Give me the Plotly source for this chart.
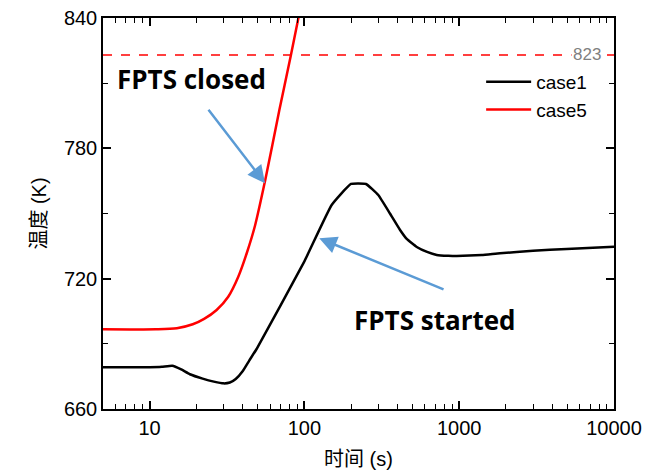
import numpy as np
import plotly.graph_objects as go

# Temperature histories (time in s, temperature in K)
case1_t = [5, 10, 12, 14, 16, 18.2, 22, 26, 30, 33, 36, 40, 44, 49, 100, 150, 200, 250, 300, 357, 415, 458, 532, 620, 716, 850, 964, 1400, 1836, 3000, 4950, 10000]
case1_T = [679.2, 679.2, 679.4, 679.9, 678.2, 676.0, 674.0, 672.6, 671.8, 672.2, 673.8, 677.5, 682.3, 687.5, 728.0, 753.9, 763.6, 763.6, 758.5, 750.0, 742.4, 738.3, 734.6, 732.3, 730.9, 730.5, 730.4, 730.9, 731.7, 732.8, 733.7, 734.7]

case5_t = [5, 11, 15, 19, 22.5, 27.1, 32.2, 37.4, 42.4, 48.0, 55.7, 68.9, 81.6, 91.4, 100]
case5_T = [696.7, 696.7, 697.2, 699.0, 701.5, 705.6, 711.7, 720.9, 731.7, 744.5, 765.0, 797.6, 822.5, 839.9, 853.4]

limit_T = 823
x_range = [5, 10000]
y_range = [660, 840]

FONT = "Arial, Liberation Sans, Noto Sans CJK SC, sans-serif"
BOLD_FONT = "Open Sans, Lato, sans-serif"
ARROW_BLUE = "#5B9BD5"

fig = go.Figure()
fig.add_trace(go.Scatter(x=case1_t, y=case1_T, mode="lines", name="case1",
                         line=dict(color="black", width=2.5, shape="spline", smoothing=0.35)))
fig.add_trace(go.Scatter(x=case5_t, y=case5_T, mode="lines", name="case5",
                         line=dict(color="red", width=2.5, shape="spline", smoothing=0.8)))

# design limit
fig.add_shape(type="line", xref="paper", yref="y", x0=0, x1=1, y0=limit_T, y1=limit_T,
              line=dict(color="red", width=1.5, dash="dash"))
fig.add_annotation(xref="paper", yref="y", x=0.947, y=limit_T, text=str(limit_T),
                   xanchor="center", yanchor="middle",
                   showarrow=False, font=dict(family=FONT, size=17, color="#7f7f7f"),
                   bgcolor="white", borderpad=1)

# event labels
fig.add_annotation(xref="paper", yref="paper", x=0.174, y=0.844, text="<b>FPTS closed</b>",
                   xanchor="center", yanchor="middle",
                   showarrow=False, font=dict(family=BOLD_FONT, size=26, color="black"))
fig.add_annotation(xref="paper", yref="paper", x=0.650, y=0.228, text="<b>FPTS started</b>",
                   xanchor="center", yanchor="middle",
                   showarrow=False, font=dict(family=BOLD_FONT, size=26, color="black"))

# pointer arrows (head, tail) in data coordinates
arrows = [((55.7, 763.9), (23.6, 798.4)), ((124.7, 738.6), (810, 714.8))]
for (hx, hy), (tx, ty) in arrows:
    fig.add_annotation(xref="x", yref="y", axref="x", ayref="y",
                       x=np.log10(hx), y=hy, ax=np.log10(tx), ay=ty, text="",
                       showarrow=True, arrowhead=2, arrowsize=1.4, arrowwidth=2.5,
                       arrowcolor=ARROW_BLUE)

axis_common = dict(showline=True, linecolor="black", linewidth=1.5, mirror="ticks",
                   ticks="inside", ticklen=8, tickwidth=1.5, tickcolor="black",
                   showgrid=False, zeroline=False,
                   tickfont=dict(family=FONT, size=20, color="black"))

fig.update_xaxes(type="log", range=[np.log10(x_range[0]), np.log10(x_range[1])],
                 tick0=0, dtick=1, tickformat="d",
                 minor=dict(ticks="inside", ticklen=5, tickwidth=1.2, tickcolor="black",
                            dtick="D1", showgrid=False),
                 title=dict(text="时间 (s)", font=dict(family=FONT, size=20, color="black"), standoff=14),
                 **axis_common)
fig.update_yaxes(range=y_range, dtick=60,
                 minor=dict(ticks="inside", ticklen=5, tickwidth=1.2, tickcolor="black",
                            dtick=30, showgrid=False),
                 title=dict(text="温度 (K)", font=dict(family=FONT, size=20, color="black"), standoff=12),
                 **axis_common)

fig.update_layout(
    width=666, height=471,
    margin=dict(l=103, r=52, t=18, b=62, autoexpand=False),
    paper_bgcolor="white", plot_bgcolor="white",
    font=dict(family=FONT, color="black"),
    showlegend=True,
    legend=dict(x=0.74, y=0.885, xanchor="left", yanchor="top",
                bgcolor="rgba(0,0,0,0)", font=dict(family=FONT, size=19, color="black"),
                tracegroupgap=0, itemwidth=45),
)

fig.write_html("out.html")
